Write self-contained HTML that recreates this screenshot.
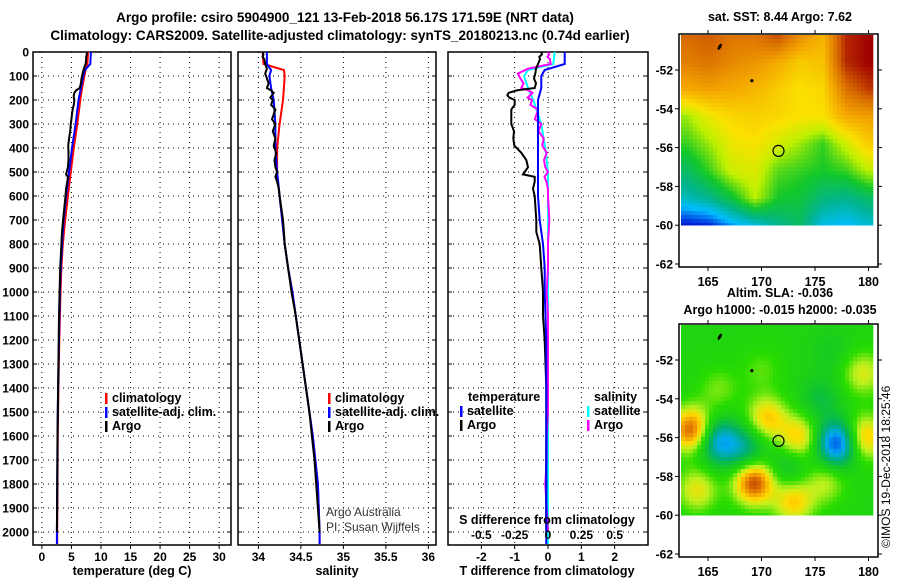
<!DOCTYPE html>
<html><head><meta charset="utf-8"><style>
html,body{margin:0;padding:0;background:#fff;}
svg{display:block;font-family:"Liberation Sans",Arial,sans-serif;}
</style></head><body>
<svg id="fig" width="900" height="580" viewBox="0 0 900 580" xmlns="http://www.w3.org/2000/svg">
<text x="345" y="22" text-anchor="middle" font-size="13.5" font-weight="bold">Argo profile: csiro 5904900_121 13-Feb-2018 56.17S 171.59E (NRT data)</text>
<text x="340" y="40" text-anchor="middle" font-size="13.5" font-weight="bold">Climatology: CARS2009. Satellite-adjusted climatology: synTS_20180213.nc (0.74d earlier)</text>
<g id="g"></g>
</svg>
<script>
// ---- profile data ----
var climDepth=[0,50,75,100,150,200,300,400,500,600,700,800,900,1000,1200,1400,1600,1800,2000,2050];
var climT=[7.8,7.7,7.4,7.2,6.8,6.5,6.0,5.4,4.9,4.4,3.95,3.55,3.3,3.15,2.95,2.8,2.7,2.65,2.6,2.6];
var satT=[8.3,8.2,7.3,7.0,6.6,6.2,5.7,5.1,4.6,4.1,3.7,3.4,3.2,3.05,2.9,2.75,2.65,2.6,2.55,2.55];
var climS=[34.05,34.06,34.3,34.31,34.3,34.29,34.25,34.22,34.22,34.25,34.28,34.31,34.35,34.4,34.48,34.56,34.64,34.7,34.72,34.72];
var satS=[34.1,34.1,34.15,34.13,34.15,34.18,34.2,34.2,34.22,34.25,34.28,34.31,34.35,34.4,34.48,34.56,34.64,34.7,34.72,34.72];
var argoDepth=[0,10,20,30,50,70,90,110,130,150,160,170,180,190,200,220,240,260,280,300,330,360,390,420,450,480,500,510,520,540,570,600,650,700,750,800,850,900,950,1000,1100,1200,1300,1400,1500,1600,1700,1800,1900,2000];
var argoT=[7.6,7.6,7.5,7.5,7.4,7.1,6.9,6.7,6.6,6.4,5.8,5.5,5.4,5.4,5.5,5.4,5.2,5.1,5.0,4.9,4.8,4.6,4.45,4.5,4.5,4.4,4.2,4.1,4.4,4.3,4.1,4.0,3.8,3.6,3.4,3.3,3.2,3.1,3.05,3.0,2.9,2.85,2.8,2.75,2.7,2.65,2.62,2.6,2.57,2.55];
var argoS=[34.05,34.06,34.05,34.07,34.08,34.1,34.08,34.1,34.12,34.1,34.15,34.18,34.16,34.14,34.17,34.15,34.2,34.18,34.16,34.2,34.17,34.2,34.18,34.21,34.19,34.2,34.22,34.21,34.2,34.22,34.24,34.25,34.27,34.29,34.3,34.31,34.33,34.35,34.37,34.39,34.44,34.48,34.52,34.56,34.6,34.63,34.66,34.68,34.7,34.72];
var tTicks=[0,5,10,15,20,25,30];
var sTicks=[34,34.5,35,35.5,36];
var dTTicks=[-2,-1,0,1,2];
var dSTicks=[-0.5,-0.25,0,0.25,0.5];
var depthTicks=[0,100,200,300,400,500,600,700,800,900,1000,1100,1200,1300,1400,1500,1600,1700,1800,1900,2000];
// ---- SST map grid (rows lat -50.2..-60, cols lon 163..180), normalised 0..1 ----
var sstGrid=[
[0.82,0.84,0.8,0.8,0.86,0.76,0.68,0.9,0.95],
[0.78,0.8,0.76,0.74,0.7,0.64,0.66,0.9,0.95],
[0.7,0.72,0.7,0.68,0.64,0.6,0.62,0.8,0.88],
[0.5,0.58,0.62,0.63,0.62,0.6,0.6,0.7,0.72],
[0.44,0.5,0.58,0.6,0.55,0.5,0.44,0.54,0.64],
[0.36,0.44,0.54,0.56,0.46,0.44,0.42,0.44,0.52],
[0.28,0.32,0.4,0.52,0.42,0.4,0.34,0.32,0.36],
[0.1,0.12,0.2,0.25,0.32,0.36,0.24,0.22,0.26]];
// ---- SLA blobs ----
var slaLon=[163.5,169.3,170.5,173.5,179.5,177.1,166,168.5,164,173,179.5,172.5,176,175.5,166,170,176.5];
var slaLat=[-55.6,-58.3,-55,-56,-56,-56.3,-56.2,-56.6,-58.7,-59.3,-52.7,-57.5,-58.3,-54,-53.5,-52.5,-51.5];
var slaAmp=[0.4,0.42,0.25,0.25,0.3,-0.5,-0.35,-0.22,0.2,0.25,0.18,-0.12,0.15,-0.12,0.1,0.08,-0.06];

var NS="http://www.w3.org/2000/svg",G=document.getElementById('g');
function el(t,a,p){var e=document.createElementNS(NS,t);for(var k in a)e.setAttribute(k,a[k]);(p||G).appendChild(e);return e;}
function txt(s,a,p){var e=el('text',a,p);e.textContent=s;return e;}
var Y0=52,Y1=545;function yD(d){return Y0+d*0.24;}
var panels=[
 {x0:33,x1:231,lo:-1.5,hi:32,name:'temperature-panel'},
 {x0:238,x1:436,lo:33.76,hi:36.09,name:'salinity-panel'},
 {x0:448,x1:648,lo:-3,hi:3,name:'difference-panel'}];
function sx(p,v){return p.x0+(v-p.lo)/(p.hi-p.lo)*(p.x1-p.x0);}
function interp(xs,ys,x){for(var i=1;i<xs.length;i++)if(x<=xs[i]){var f=(x-xs[i-1])/(xs[i]-xs[i-1]);return ys[i-1]+f*(ys[i]-ys[i-1]);}return ys[ys.length-1];}
function line(p,vals,deps,col,name,scale){var pts=[];for(var i=0;i<vals.length;i++)pts.push(sx(p,vals[i]*(scale||1)).toFixed(1)+','+yD(deps[i]).toFixed(1));
 var e=el('polyline',{points:pts.join(' '),fill:'none',stroke:col,'stroke-width':2});
 
 }
panels.forEach(function(p,pi){
 var gp=el('g',{});
 
 
 var ticks=pi==0?tTicks:pi==1?sTicks:dTTicks;
 ticks.forEach(function(t){var x=sx(p,t);
  el('line',{x1:x,x2:x,y1:Y0,y2:Y1,stroke:'#000','stroke-dasharray':'1 4','stroke-width':1},gp);
  el('line',{x1:x,x2:x,y1:Y1,y2:Y1+4,stroke:'#000'},gp);
  var tl=txt(String(t),{x:x,y:Y1+16,'text-anchor':'middle','font-size':12,'font-weight':'bold'},gp);
  
  });
 depthTicks.forEach(function(d){var y=yD(d);
  el('line',{x1:p.x0,x2:p.x1,y1:y,y2:y,stroke:'#000','stroke-dasharray':'1 4'},gp);
  el('line',{x1:p.x0,x2:p.x0+4,y1:y,y2:y,stroke:'#000'},gp);
  el('line',{x1:p.x1-4,x2:p.x1,y1:y,y2:y,stroke:'#000'},gp);
  if(pi==0){var tl=txt(String(d),{x:29,y:y+4.5,'text-anchor':'end','font-size':12,'font-weight':'bold'},gp);
   
   }});
 el('rect',{x:p.x0,y:Y0,width:p.x1-p.x0,height:Y1-Y0,fill:'none',stroke:'#000','stroke-width':1.5},gp);
});
var P=panels;
line(P[0],climT,climDepth,'#ff0000','temp-climatology-line');
line(P[0],satT,climDepth,'#0000ff','temp-satellite-line');
line(P[0],argoT,argoDepth,'#000','temp-argo-line');
line(P[1],climS,climDepth,'#ff0000','sal-climatology-line');
line(P[1],satS,climDepth,'#0000ff','sal-satellite-line');
line(P[1],argoS,argoDepth,'#000','sal-argo-line');
var dTs=satT.map(function(v,i){return v-climT[i];});
var dSs=satS.map(function(v,i){return v-climS[i];});
var dTa=argoT.map(function(v,i){return v-interp(climDepth,climT,argoDepth[i]);});
var dSa=argoS.map(function(v,i){return v-interp(climDepth,climS,argoDepth[i]);});
line(P[2],dSs,climDepth,'#00ffff','sal-diff-satellite-line',4);
line(P[2],dSa,argoDepth,'#ff00ff','sal-diff-argo-line',4);
line(P[2],dTa,argoDepth,'#000','temp-diff-argo-line');
line(P[2],dTs,climDepth,'#0000ff','temp-diff-satellite-line');
dSTicks.forEach(function(t){var tl=txt(String(t),{x:sx(P[2],t*4),y:539,'text-anchor':'middle','font-size':12,'font-weight':'bold'});
 
 });
txt('S difference from climatology',{x:547,y:524,'text-anchor':'middle','font-size':12.5,'font-weight':'bold',});
txt('temperature (deg C)',{x:132,y:575,'text-anchor':'middle','font-size':12.5,'font-weight':'bold',});
txt('salinity',{x:337,y:575,'text-anchor':'middle','font-size':12.5,'font-weight':'bold',});
txt('T difference from climatology',{x:547,y:575,'text-anchor':'middle','font-size':12.5,'font-weight':'bold',});
function leg(x,y,col,label,name){el('rect',{x:x,y:y-9,width:2.5,height:11,fill:col});
 txt(label,{x:x+7,y:y,'font-size':12.5,'font-weight':'bold',});}
leg(105,402,'#ff0000','climatology','legend-climatology');
leg(105,416,'#0000ff','satellite-adj. clim.','legend-satellite-adj');
leg(105,430,'#000','Argo','legend-argo');
leg(328,402,'#ff0000','climatology','legend2-climatology');
leg(328,416,'#0000ff','satellite-adj. clim.','legend2-satellite-adj');
leg(328,430,'#000','Argo','legend2-argo');
txt('temperature',{x:468,y:401,'font-size':12.5,'font-weight':'bold',});
leg(460,415,'#0000ff','satellite','legend-t-satellite');
leg(460,429,'#000','Argo','legend-t-argo');
txt('salinity',{x:594,y:401,'font-size':12.5,'font-weight':'bold',});
leg(587,415,'#00ffff','satellite','legend-s-satellite');
leg(587,429,'#ff00ff','Argo','legend-s-argo');
txt('Argo Australia',{x:326,y:516,'font-size':12,fill:'#333',});
txt('PI: Susan Wijffels',{x:326,y:531,'font-size':12,fill:'#333',});

// ---- maps ----
var MX0=679,MX1=878,DX0=681,DX1=870;
function lonX(l){return 708+(l-165)*10.7;}
function sst(v){var s=[[0,[0,0,128]],[0.12,[0,40,220]],[0.22,[0,190,255]],[0.32,[0,180,140]],[0.42,[20,200,40]],[0.52,[190,240,0]],[0.6,[250,225,0]],[0.7,[245,170,0]],[0.82,[215,105,0]],[0.95,[160,0,0]]];
 return cmap(s,v);}
function slaC(v){var s=[[0,[0,60,230]],[0.15,[0,170,240]],[0.3,[0,175,110]],[0.42,[20,200,40]],[0.55,[40,220,0]],[0.65,[190,240,30]],[0.73,[255,220,0]],[0.82,[240,150,0]],[0.95,[180,40,0]]];
 return cmap(s,v);}
function cmap(s,v){v=Math.max(0,Math.min(1,v));for(var i=1;i<s.length;i++)if(v<=s[i][0]){var f=(v-s[i-1][0])/(s[i][0]-s[i-1][0]);var c=s[i-1][1].map(function(a,k){return Math.round(a+f*(s[i][1][k]-a));});return 'rgb('+c+')';}return 'rgb('+s[s.length-1][1]+')';}
function drawMap(top,bot,title1,title2,field,cm,name){
 var y52=top+36,y62=bot-3;function ly(l){return y52+(-52-l)*(y62-y52)/10;}
 var gm=el('g',{});
 
 
 var ytop=top+1,ybot=ly(-60),cs=4;
 for(var y=ytop;y<ybot;y+=cs)for(var x=DX0;x<DX1;x+=cs){
  var lat=-52-(y+cs/2-y52)/(y62-y52)*10,lon=165+(x+cs/2-708)/10.7;
  el('rect',{x:x,y:y,width:cs+0.3,height:Math.min(cs,ybot-y)+0.3,fill:cm(field(lon,lat))},gm);}
 el('rect',{x:MX0,y:top,width:MX1-MX0,height:bot-top,fill:'none',stroke:'#000','stroke-width':1.5},gm);
 [-52,-54,-56,-58,-60,-62].forEach(function(l){var y=ly(l);
  el('line',{x1:MX0-4,x2:MX0,y1:y,y2:y,stroke:'#000'},gm);el('line',{x1:MX1,x2:MX1+4,y1:y,y2:y,stroke:'#000'},gm);
  txt(String(l),{x:MX0-6,y:y+4.5,'text-anchor':'end','font-size':12,'font-weight':'bold'},gm);});
 [165,170,175,180].forEach(function(l){var x=lonX(l);
  el('line',{x1:x,x2:x,y1:top-4,y2:top,stroke:'#000'},gm);el('line',{x1:x,x2:x,y1:bot,y2:bot+4,stroke:'#000'},gm);
  txt(String(l),{x:x,y:bot+19,'text-anchor':'middle','font-size':12.5,'font-weight':'bold'},gm);});
 el('circle',{cx:lonX(171.59),cy:ly(-56.17),r:5.5,fill:'none',stroke:'#000','stroke-width':1.2},gm);
 el('circle',{cx:lonX(169.1),cy:ly(-52.55),r:1.6,fill:'#000'},gm);
 el('ellipse',{cx:lonX(166.1),cy:ly(-50.8),rx:1.5,ry:3.5,fill:'#000',transform:'rotate(30 '+lonX(166.1)+' '+ly(-50.8)+')'},gm);
 txt(title1,{x:780,y:title2?top-27:top-13,'text-anchor':'middle','font-size':12.5,'font-weight':'bold'},gm);
 if(title2)txt(title2,{x:780,y:top-10,'text-anchor':'middle','font-size':12.5,'font-weight':'bold'},gm);
}
function sstField(lon,lat){var c=(lon-163)/17*8,r=(-50.2-lat)/9.8*7;c=Math.max(0,Math.min(8,c));r=Math.max(0,Math.min(7,r));
 var c0=Math.min(7,Math.floor(c)),r0=Math.min(6,Math.floor(r)),fc=c-c0,fr=r-r0;
 var a=sstGrid[r0][c0]*(1-fc)+sstGrid[r0][c0+1]*fc,b=sstGrid[r0+1][c0]*(1-fc)+sstGrid[r0+1][c0+1]*fc;
 return a*(1-fr)+b*fr;}
function slaField(lon,lat){var v=0.5;for(var i=0;i<slaLon.length;i++){var dx=(lon-slaLon[i])/1.9,dy=(lat-slaLat[i])/1.15;v+=slaAmp[i]*Math.exp(-(dx*dx+dy*dy));}return v;}
drawMap(34,267,'sat. SST: 8.44 Argo: 7.62',null,sstField,sst,'sst-map');
drawMap(324,557,'Altim. SLA: -0.036','Argo h1000: -0.015 h2000: -0.035',slaField,slaC,'sla-map');
txt('©IMOS 19-Dec-2018 18:25:46',{x:0,y:0,'font-size':12,transform:'translate(890,548) rotate(-90)',});
</script>
</body></html>
